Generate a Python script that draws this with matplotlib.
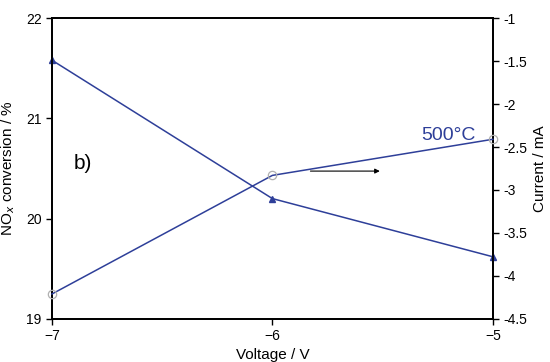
import matplotlib
matplotlib.use("Agg")
import matplotlib.pyplot as plt

plt.rcParams['font.family'] = ['Liberation Sans', 'DejaVu Sans']

voltage = [-7, -6, -5]
nox_conversion = [21.58, 20.2, 19.62]
current = [-4.21, -2.83, -2.41]

blue = '#2E3F99'

fig = plt.figure(figsize=(5.5, 3.62), dpi=100)
ax = fig.add_axes([0.0945, 0.119, 0.8015, 0.831])
ax2 = ax.twinx()

ax.plot(voltage, nox_conversion, color=blue, lw=1.1, marker='^', ms=5,
        mfc=blue, mec=blue, clip_on=False, zorder=5)
ax2.plot(voltage, current, color=blue, lw=1.1, marker='o', ms=6,
         mfc='none', mec='#b0b0b0', mew=0.9, clip_on=False, zorder=5)

ax.set_xlim(-7, -5)
ax.set_ylim(19, 22)
ax2.set_ylim(-4.5, -1)
ax.set_xticks([-7, -6, -5])
ax.set_yticks([19, 20, 21, 22])
ax2.set_yticks([-4.5, -4, -3.5, -3, -2.5, -2, -1.5, -1])
ax2.set_yticklabels(['-4.5', '-4', '-3.5', '-3', '-2.5', '-2', '-1.5', '-1'])

for a in (ax, ax2):
    for s in a.spines.values():
        s.set_linewidth(1.3)
    a.tick_params(direction='out', length=4, width=1, labelsize=10, colors='black')
ax.tick_params(axis='x', pad=3)

ax.set_xlabel('Voltage / V', fontsize=11, labelpad=4)
ax.set_ylabel('NO$_x$ conversion / %', fontsize=11, labelpad=6)
ax2.set_ylabel('Current / mA', fontsize=11, labelpad=4)

ax.text(-6.9, 20.55, 'b)', fontsize=15, va='center', ha='left')
ax2.text(-5.2, -2.42, '500°C', fontsize=14, color=blue, ha='center', va='baseline')
ax2.annotate('', xy=(-5.5, -2.78), xytext=(-5.84, -2.78),
             arrowprops=dict(arrowstyle='-|>', color='black', lw=0.8,
                             mutation_scale=7))

fig.savefig('out.png', dpi=100)
